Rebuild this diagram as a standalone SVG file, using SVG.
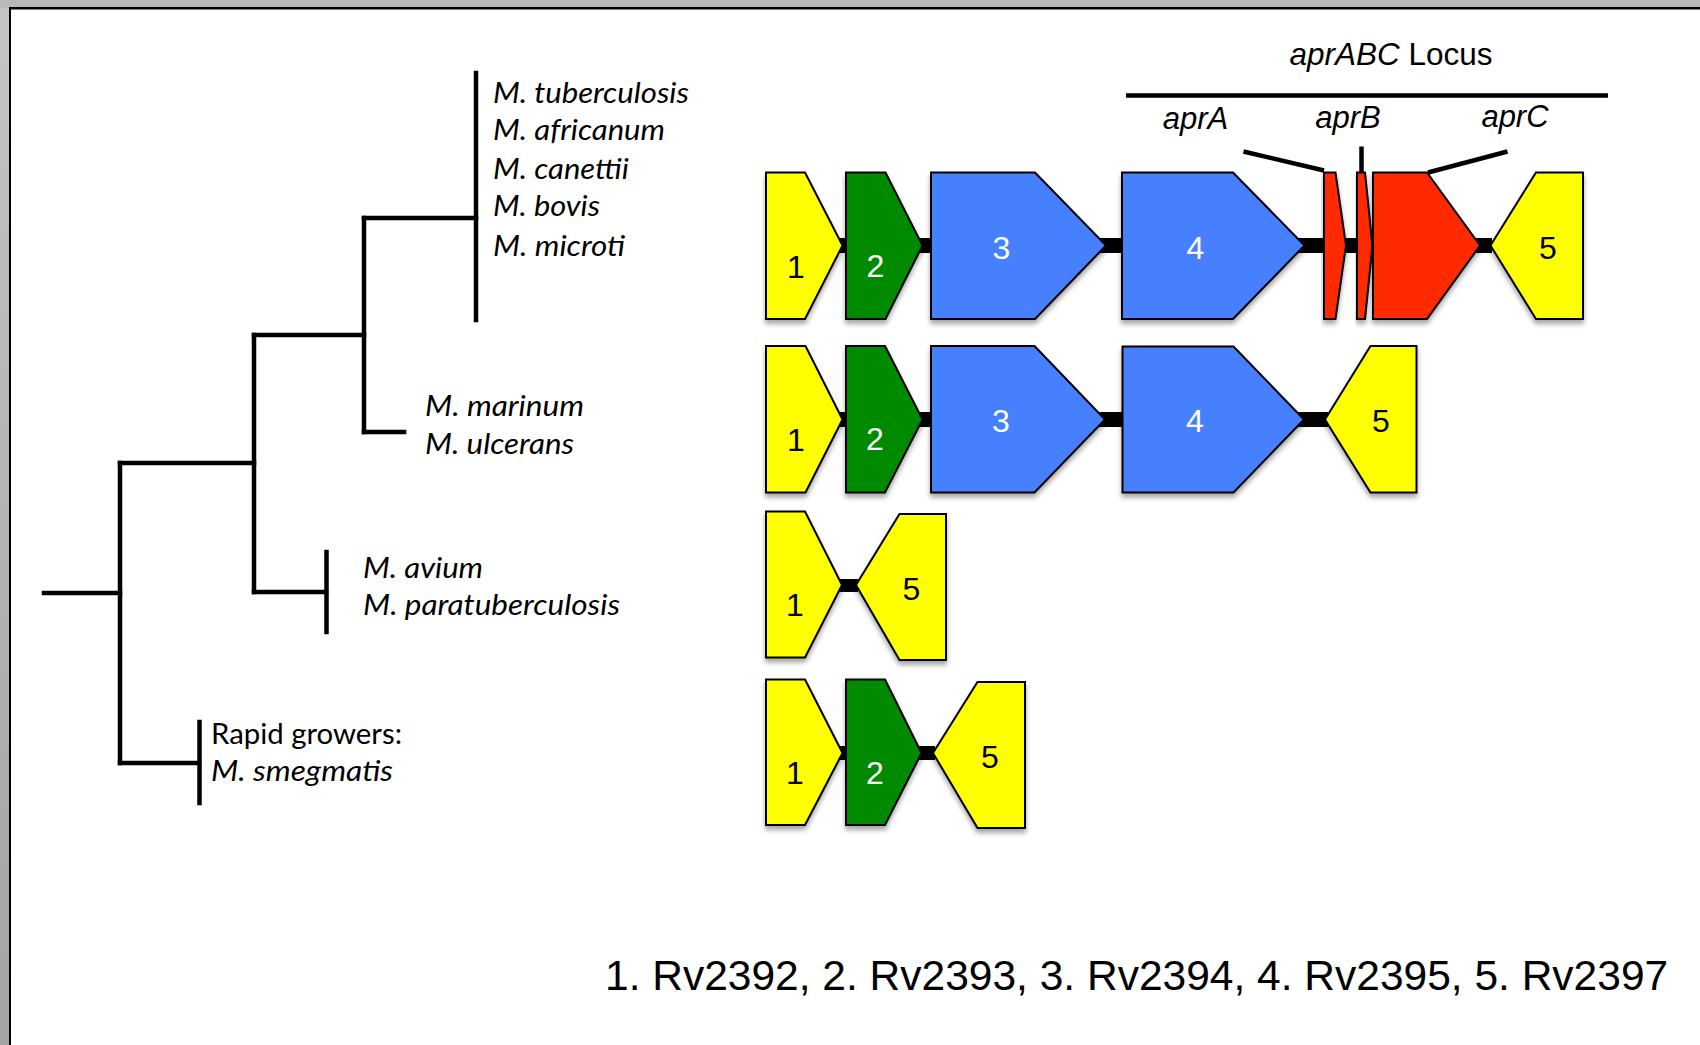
<svg xmlns="http://www.w3.org/2000/svg" width="1700" height="1045" viewBox="0 0 1700 1045">
  <defs>
    <linearGradient id="sideGrad" x1="0" y1="0" x2="0" y2="1">
      <stop offset="0" stop-color="#c4c4c4"/>
      <stop offset="1" stop-color="#a3a3a3"/>
    </linearGradient>
    <filter id="shadow" x="-10%" y="-10%" width="130%" height="130%">
      <feDropShadow dx="0" dy="4" stdDeviation="2.5" flood-color="#000" flood-opacity="0.35"/>
    </filter>
    <style>
      .taxon { font-family: "Lato", "Open Sans", sans-serif; font-style: italic; font-size: 28.5px; fill: #000; }
      .plain { font-family: "Lato", "Open Sans", sans-serif; font-size: 28.5px; fill: #000; }
      .branch { stroke: #000; stroke-width: 4.5; fill: none; stroke-linecap: square; }
      .leader { stroke: #000; stroke-width: 4.5; fill: none; }
      .gene { stroke: #000; stroke-width: 2; stroke-linejoin: miter; filter: url(#shadow); }
      .yellow { fill: #ffff00; }
      .green { fill: #008a00; }
      .blue { fill: #4680ff; }
      .red { fill: #ff2a00; }
      .num { font-family: "Liberation Sans", Arial, sans-serif; font-size: 32px; text-anchor: middle; }
      .dark { fill: #000; }
      .light { fill: #fff; }
      .arial { font-family: "Liberation Sans", Arial, sans-serif; fill: #000; }
      .backbone { fill: #000; }
    </style>
  </defs>

  <!-- window frame -->
  <rect x="0" y="0" width="1700" height="1045" fill="url(#sideGrad)"/>
  <rect x="0" y="0" width="1700" height="8" fill="#b9b9b9"/>
  <rect x="9" y="7" width="1691" height="1038" fill="#000"/>
  <rect x="11" y="9.5" width="1689" height="1035.5" fill="#fff"/>

  <!-- connectors: tree branches, chromosome backbones, gene leaders -->
  <g id="connectors">
    <g id="tree-branches">
      <path class="branch" d="M44,593 H120"/>
      <path class="branch" d="M120,463 V763"/>
      <path class="branch" d="M120,463 H254"/>
      <path class="branch" d="M120,763 H199"/>
      <path class="branch" d="M199.5,722 V803"/>
      <path class="branch" d="M254,335 V592"/>
      <path class="branch" d="M254,335 H364"/>
      <path class="branch" d="M254,592 H326"/>
      <path class="branch" d="M326.5,552 V632"/>
      <path class="branch" d="M364,218 V432"/>
      <path class="branch" d="M364,218 H476"/>
      <path class="branch" d="M364,432 H404"/>
      <path class="branch" d="M476,73 V320" stroke-linecap="butt"/>
    </g>
    <g id="backbones">
      <rect class="backbone" x="840" y="238" width="652" height="15"/>
      <rect class="backbone" x="840" y="412" width="488" height="15"/>
      <rect class="backbone" x="840" y="579" width="18" height="13"/>
      <rect class="backbone" x="840" y="746" width="95" height="14"/>
    </g>
    <g id="locus-leaders">
      <path class="leader" d="M1126,95.5 H1608"/>
      <path class="leader" d="M1243.5,151.5 L1324,170.5"/>
      <path class="leader" d="M1361.5,146.5 V173"/>
      <path class="leader" d="M1507.5,151.5 L1428,172.5"/>
    </g>
  </g>

  <!-- phylogeny taxa -->
  <g id="taxon-tb-complex">
    <text class="taxon" x="493" y="103" textLength="196" lengthAdjust="spacingAndGlyphs">M. tuberculosis</text>
    <text class="taxon" x="493" y="140" textLength="172" lengthAdjust="spacingAndGlyphs">M. africanum</text>
    <text class="taxon" x="493" y="179" textLength="136" lengthAdjust="spacingAndGlyphs">M. canettii</text>
    <text class="taxon" x="493" y="216" textLength="107" lengthAdjust="spacingAndGlyphs">M. bovis</text>
    <text class="taxon" x="493" y="256" textLength="132" lengthAdjust="spacingAndGlyphs">M. microti</text>
  </g>
  <g id="taxon-marinum">
    <text class="taxon" x="425" y="416" textLength="159" lengthAdjust="spacingAndGlyphs">M. marinum</text>
    <text class="taxon" x="425" y="454" textLength="149" lengthAdjust="spacingAndGlyphs">M. ulcerans</text>
  </g>
  <g id="taxon-avium">
    <text class="taxon" x="363" y="578" textLength="120" lengthAdjust="spacingAndGlyphs">M. avium</text>
    <text class="taxon" x="363" y="615" textLength="257" lengthAdjust="spacingAndGlyphs">M. paratuberculosis</text>
  </g>
  <g id="taxon-rapid">
    <text class="plain" x="211" y="744" textLength="191" lengthAdjust="spacingAndGlyphs">Rapid growers:</text>
    <text class="taxon" x="211" y="781" textLength="182" lengthAdjust="spacingAndGlyphs">M. smegmatis</text>
  </g>

  <!-- locus header -->
  <g id="locus-title">
    <text class="arial" x="1391" y="65" font-size="31.5" text-anchor="middle"><tspan font-style="italic">aprABC</tspan> Locus</text>
  </g>
  <g id="locus-labels">
    <text class="arial" x="1195.5" y="129" font-size="31" font-style="italic" text-anchor="middle">aprA</text>
    <text class="arial" x="1348" y="128" font-size="31" font-style="italic" text-anchor="middle">aprB</text>
    <text class="arial" x="1515" y="127" font-size="31" font-style="italic" text-anchor="middle">aprC</text>
  </g>

  <!-- row 1: M. tuberculosis complex -->
  <g id="row1-gene1"><polygon class="gene yellow" points="766,172.5 805,172.5 842.5,245.5 805,319 766,319"/><text class="num dark" x="796" y="278">1</text></g>
  <g id="row1-gene2"><polygon class="gene green" points="846,172.5 885.5,172.5 922.5,245.5 885.5,319 846,319"/><text class="num light" x="875.5" y="277">2</text></g>
  <g id="row1-gene3"><polygon class="gene blue" points="931,172.5 1035,172.5 1106,245.5 1035,319 931,319"/><text class="num light" x="1001.5" y="258.5">3</text></g>
  <g id="row1-gene4"><polygon class="gene blue" points="1122,172.5 1233,172.5 1304.5,245.5 1233,319 1122,319"/><text class="num light" x="1195.5" y="258.5">4</text></g>
  <g id="row1-aprA"><polygon class="gene red" points="1324,172.5 1335.5,172.5 1346,245.5 1335.5,319 1324,319"/></g>
  <g id="row1-aprB"><polygon class="gene red" points="1357,172.5 1365,172.5 1372.5,245.5 1365,319 1357,319"/></g>
  <g id="row1-aprC"><polygon class="gene red" points="1373,172.5 1427,172.5 1480,245.5 1427,319 1373,319"/></g>
  <g id="row1-gene5"><polygon class="gene yellow" points="1490.5,245.5 1536,172.5 1583,172.5 1583,319 1536,319"/><text class="num dark" x="1548" y="258.5">5</text></g>

  <!-- row 2: M. marinum / M. ulcerans -->
  <g id="row2-gene1"><polygon class="gene yellow" points="766,346 805.5,346 842.5,419.5 805.5,492.5 766,492.5"/><text class="num dark" x="796" y="451">1</text></g>
  <g id="row2-gene2"><polygon class="gene green" points="846,346 885,346 922.5,419.5 885,492.5 846,492.5"/><text class="num light" x="875" y="450">2</text></g>
  <g id="row2-gene3"><polygon class="gene blue" points="931,346 1034.5,346 1105,419.5 1034.5,492.5 931,492.5"/><text class="num light" x="1001" y="432">3</text></g>
  <g id="row2-gene4"><polygon class="gene blue" points="1122.5,346.5 1233.5,346.5 1304,419.5 1233.5,492.5 1122.5,492.5"/><text class="num light" x="1195" y="432">4</text></g>
  <g id="row2-gene5"><polygon class="gene yellow" points="1325,419.5 1370.5,346 1416.5,346 1416.5,492.5 1370.5,492.5"/><text class="num dark" x="1381" y="432">5</text></g>

  <!-- row 3: M. avium / M. paratuberculosis -->
  <g id="row3-gene1"><polygon class="gene yellow" points="766,511.5 805,511.5 842,585 805,657.5 766,657.5"/><text class="num dark" x="795" y="616">1</text></g>
  <g id="row3-gene5"><polygon class="gene yellow" points="856,585 899.5,514 946,514 946,660 899.5,660"/><text class="num dark" x="911.5" y="600">5</text></g>

  <!-- row 4: M. smegmatis -->
  <g id="row4-gene1"><polygon class="gene yellow" points="766,679.5 805,679.5 842.5,753 805,825 766,825"/><text class="num dark" x="795" y="784">1</text></g>
  <g id="row4-gene2"><polygon class="gene green" points="846,679.5 885,679.5 921.5,753 885,825 846,825"/><text class="num light" x="875" y="784">2</text></g>
  <g id="row4-gene5"><polygon class="gene yellow" points="933,753 977.5,682 1025,682 1025,828 977.5,828"/><text class="num dark" x="990" y="768">5</text></g>

  <!-- gene key -->
  <g id="gene-key">
    <text class="arial" x="605" y="990" font-size="42.5">1. Rv2392, 2. Rv2393, 3. Rv2394, 4. Rv2395, 5. Rv2397</text>
  </g>
</svg>
